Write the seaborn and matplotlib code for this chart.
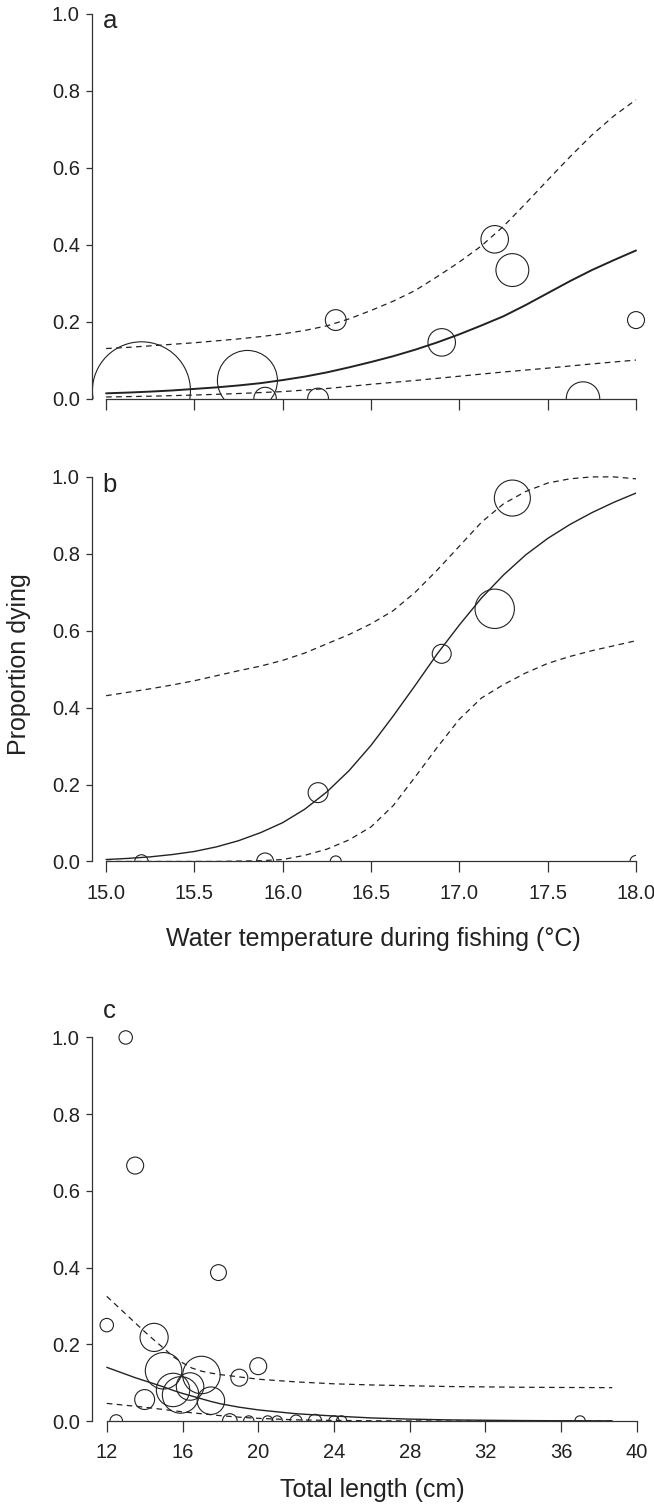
import numpy as np
import pandas as pd
import matplotlib
matplotlib.use("Agg")
import matplotlib.pyplot as plt
import seaborn as sns

# ---- data ----
# panel a: water temperature vs proportion dying (circle size ~ number of fish)
temp_a = [15.2, 15.8, 15.9, 16.2, 16.3, 16.9, 17.2, 17.3, 17.7, 18.0]
prop_a = [0.02, 0.047, 0.0, 0.0, 0.204, 0.146, 0.414, 0.334, 0.0, 0.204]
n_a = [267, 100, 14, 12, 12, 21, 21, 30, 31, 8]

# panel b
temp_b = [15.2, 15.9, 16.3, 16.2, 16.9, 17.2, 17.3, 18.0]
prop_b = [0.0, 0.0, 0.0, 0.179, 0.54, 0.657, 0.945, 0.0]
n_b = [5, 8, 3.4, 11, 10, 43, 36, 4]

# panel c: total length vs proportion dying
len_c = [12.0, 12.5, 13.0, 13.5, 14.0, 14.5, 15.0, 15.5, 15.9, 16.4, 17.0,
         17.5, 17.9, 18.5, 19.0, 19.5, 20.0, 20.5, 21.0, 22.0, 23.0, 24.0,
         24.4, 37.0]
prop_c = [0.25, 0.0, 1.0, 0.666, 0.056, 0.218, 0.131, 0.081, 0.068, 0.09,
          0.12, 0.053, 0.387, 0.0, 0.113, 0.0, 0.143, 0.0, 0.0, 0.0, 0.0,
          0.0, 0.0, 0.0]
n_c = [5, 4.4, 5, 8, 11, 22, 37, 31, 37, 21, 39, 21, 7, 6, 8, 3, 8, 3, 3,
       4, 5, 3, 3, 3]

# fitted curves and 95% limits (read along the temperature axis)
curve_x_ab = [15.0, 15.125, 15.25, 15.375, 15.5, 15.625, 15.75, 15.875,
              16.0, 16.125, 16.25, 16.375, 16.5, 16.625, 16.75, 16.875,
              17.0, 17.125, 17.25, 17.375, 17.5, 17.625, 17.75, 17.875, 18.0]
fit_a = [0.0135, 0.0155, 0.018, 0.021, 0.025, 0.029, 0.034, 0.040, 0.048,
         0.057, 0.068, 0.081, 0.095, 0.110, 0.127, 0.146, 0.167, 0.190,
         0.214, 0.243, 0.274, 0.305, 0.334, 0.360, 0.385]
upper_a = [0.130, 0.133, 0.137, 0.141, 0.145, 0.150, 0.155, 0.161, 0.168,
           0.177, 0.189, 0.207, 0.229, 0.253, 0.281, 0.317, 0.355, 0.397,
           0.448, 0.507, 0.568, 0.628, 0.685, 0.735, 0.777]
lower_a = [0.004, 0.005, 0.006, 0.0075, 0.009, 0.011, 0.013, 0.0155, 0.018,
           0.022, 0.026, 0.0315, 0.037, 0.042, 0.047, 0.0525, 0.058, 0.0635,
           0.069, 0.074, 0.079, 0.0845, 0.090, 0.095, 0.100]

fit_b = [0.005, 0.008, 0.012, 0.018, 0.026, 0.038, 0.054, 0.075, 0.101,
         0.136, 0.181, 0.236, 0.302, 0.378, 0.458, 0.540, 0.615, 0.685,
         0.745, 0.797, 0.840, 0.876, 0.907, 0.934, 0.958]
upper_b = [0.431, 0.440, 0.449, 0.459, 0.470, 0.483, 0.496, 0.508, 0.523,
           0.542, 0.566, 0.590, 0.618, 0.652, 0.700, 0.758, 0.820, 0.882,
           0.930, 0.962, 0.984, 0.995, 1.0, 1.0, 0.995]
lower_b = [0.0, 0.0, 0.0, 0.0, 0.0, 0.0, 0.001, 0.002, 0.005, 0.016, 0.032,
           0.056, 0.090, 0.145, 0.220, 0.297, 0.370, 0.425, 0.460, 0.490,
           0.515, 0.533, 0.548, 0.561, 0.574]

curve_x_c = [12, 12.5, 13, 13.5, 14, 14.5, 15, 15.5, 16, 16.5, 17, 17.5, 18,
             19, 20, 22, 24, 26, 28, 30, 32, 34, 36, 38.7]
fit_c = [0.140, 0.131, 0.122, 0.113, 0.105, 0.097, 0.089, 0.080, 0.072,
         0.065, 0.058, 0.051, 0.045, 0.036, 0.029, 0.019, 0.013, 0.008,
         0.005, 0.003, 0.002, 0.0012, 0.0007, 0.0004]
upper_c = [0.325, 0.302, 0.279, 0.256, 0.233, 0.211, 0.190, 0.168, 0.152,
           0.138, 0.130, 0.125, 0.121, 0.115, 0.109, 0.102, 0.097, 0.094,
           0.092, 0.090, 0.089, 0.088, 0.0875, 0.087]
lower_c = [0.046, 0.0435, 0.041, 0.0385, 0.036, 0.033, 0.030, 0.027, 0.024,
           0.0215, 0.019, 0.0165, 0.014, 0.010, 0.007, 0.003, 0.0015, 0.0007,
           0.0003, 0.0001, 0.0, 0.0, 0.0, 0.0]

yticks = [0.0, 0.2, 0.4, 0.6, 0.8, 1.0]
xticks_ab = [15.0, 15.5, 16.0, 16.5, 17.0, 17.5, 18.0]
xticks_c = [12, 16, 20, 24, 28, 32, 36, 40]

# ---- style ----
sns.set_style("ticks")
plt.rcParams['font.family'] = ['Liberation Sans', 'DejaVu Sans']
ink = "#222222"
W, H = 654, 1505
fig = plt.figure(figsize=(W / 100, H / 100), dpi=100)

N_MAX = 300
S_MAX = 18.66 * N_MAX   # marker area (pt^2) for N_MAX fish
Y_TOP = 1.05


def style_axes(ax, xlim, xbounds, xticks, xfmt, show_xlabels=True):
    ax.set_xlim(*xlim)
    ax.set_ylim(0, Y_TOP)
    for side in ["top", "right"]:
        ax.spines[side].set_visible(False)
    for side in ["left", "bottom"]:
        ax.spines[side].set_color("#333333")
        ax.spines[side].set_linewidth(0.9)
    ax.spines["left"].set_bounds(0, 1.0)
    ax.spines["bottom"].set_bounds(*xbounds)
    ax.set_yticks(yticks)
    ax.set_yticklabels([f"{v:.1f}" for v in yticks])
    ax.set_xticks(xticks)
    if show_xlabels:
        ax.set_xticklabels([xfmt.format(v) for v in xticks])
    else:
        ax.set_xticklabels([])
    ax.tick_params(axis="y", length=4.5, width=0.9, pad=4, labelsize=14.5,
                   colors="#333333", labelcolor=ink)
    ax.tick_params(axis="x", length=8, width=0.9, pad=8, labelsize=14.5,
                   colors="#333333", labelcolor=ink)
    ax.set_xlabel("")
    ax.set_ylabel("")


def draw_panel(ax, x, y, n, cx, fit, upper, lower, fit_lw):
    df = pd.DataFrame({"x": x, "y": y, "n": n})
    sns.scatterplot(data=df, x="x", y="y", size="n", sizes=(0, S_MAX),
                    size_norm=(0, N_MAX), legend=False, facecolor="none",
                    edgecolor=ink, linewidth=0.8, ax=ax)
    sns.lineplot(x=cx, y=fit, color=ink, lw=fit_lw, ax=ax)
    sns.lineplot(x=cx, y=upper, color=ink, lw=0.9,
                 linestyle=(0, (4.5, 3.5)), ax=ax)
    sns.lineplot(x=cx, y=lower, color=ink, lw=0.9,
                 linestyle=(0, (4.5, 3.5)), ax=ax)


# axes boxes: 0..1 spans ~384 px; the box reaches a little above 1.0
ax_a = fig.add_axes([0.1401, 0.7352, 0.8567, 0.2683])
draw_panel(ax_a, temp_a, prop_a, n_a, curve_x_ab, fit_a, upper_a, lower_a, 1.4)
style_axes(ax_a, (14.918, 18.09), (15.0, 18.0), xticks_ab, "{:.1f}",
           show_xlabels=False)

ax_b = fig.add_axes([0.1401, 0.4276, 0.8324, 0.2683])
draw_panel(ax_b, temp_b, prop_b, n_b, curve_x_ab, fit_b, upper_b, lower_b, 1.0)
style_axes(ax_b, (14.918, 18.0), (15.0, 18.0), xticks_ab, "{:.1f}")

ax_c = fig.add_axes([0.1401, 0.0558, 0.8424, 0.2676])
draw_panel(ax_c, len_c, prop_c, n_c, curve_x_c, fit_c, upper_c, lower_c, 1.0)
style_axes(ax_c, (11.2, 40.3), (12, 40), xticks_c, "{:d}")

# panel letters and axis titles
for letter, base_px in [("a", 28.3), ("b", 491.7), ("c", 1018.3)]:
    fig.text(102.5 / W, 1 - base_px / H, letter, fontsize=18.5, color=ink,
             ha="left", va="baseline")

fig.text(19 / W, 1 - 664 / H, "Proportion dying", rotation=90, fontsize=18,
         color=ink, ha="center", va="center")
fig.text(373 / W, 1 - 946 / H, "Water temperature during fishing (°C)",
         fontsize=18, color=ink, ha="center", va="baseline")
fig.text(372 / W, 1 - 1496.7 / H, "Total length (cm)", fontsize=18,
         color=ink, ha="center", va="baseline")

fig.savefig("out.png", dpi=100, facecolor="white")
